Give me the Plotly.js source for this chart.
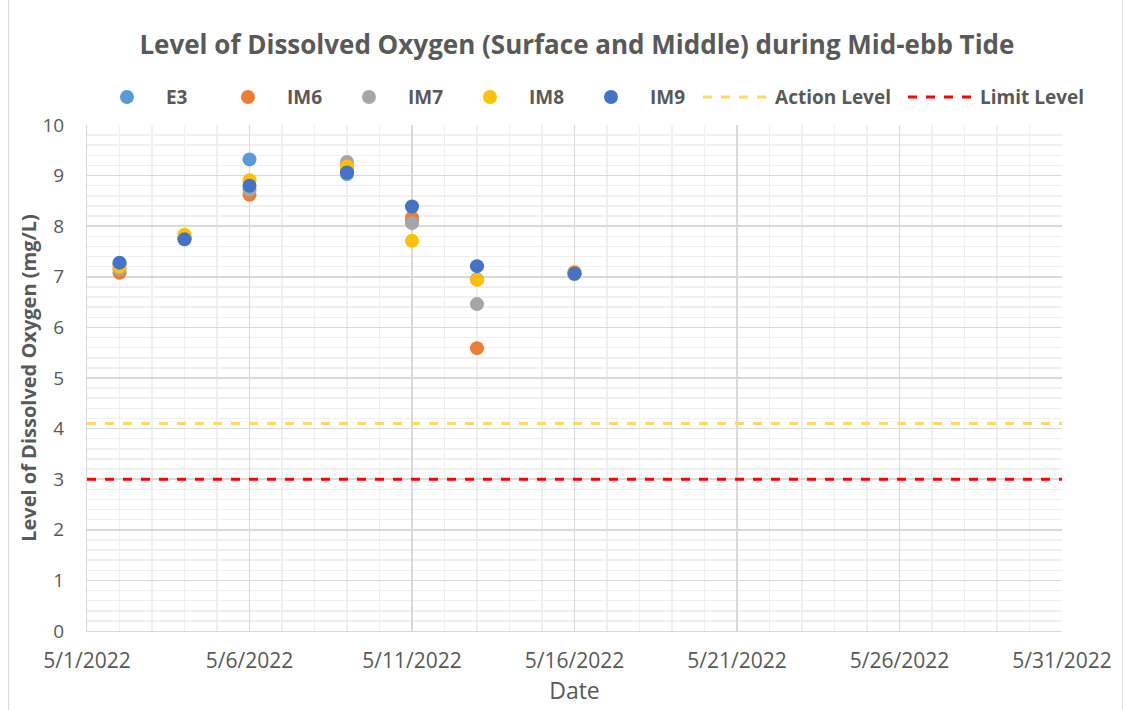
<!DOCTYPE html>
<html>
<head>
<meta charset="utf-8">
<script src="https://cdn.plot.ly/plotly-3.0.1.min.js"></script>
<style>
html,body{margin:0;padding:0;background:#fff;}
#frame{position:absolute;left:8px;top:-2px;width:1115px;height:730px;border:1px solid #d9d9d9;box-sizing:border-box;}
#chart{position:absolute;left:0;top:0;width:1129px;height:710px;}
</style>
</head>
<body>
<div id="frame"></div>
<div id="chart"></div>
<script>
const dates = ["2022-05-02","2022-05-04","2022-05-06","2022-05-09","2022-05-11","2022-05-13","2022-05-16"];
const E3  = [7.25, 7.75, 9.32, 9.03, 8.10, 6.95, 7.06];
const IM6 = [7.08, 7.75, 8.62, 9.10, 8.17, 5.59, 7.09];
const IM7 = [7.15, 7.78, 8.72, 9.27, 8.06, 6.46, 7.06];
const IM8 = [7.20, 7.83, 8.91, 9.18, 7.71, 6.94, 7.06];
const IM9 = [7.28, 7.74, 8.80, 9.06, 8.39, 7.21, 7.06];
const levelDates = ["2022-05-01","2022-05-31"];
const actionLevel = [4.1, 4.1];
const limitLevel = [3.0, 3.0];
const xTicks = ["2022-05-01","2022-05-06","2022-05-11","2022-05-16","2022-05-21","2022-05-26","2022-05-31"];
const xTickText = ["5/1/2022","5/6/2022","5/11/2022","5/16/2022","5/21/2022","5/26/2022","5/31/2022"];

const font = "Open Sans, sans-serif";
const grey = "#595959";
function pts(name, y, color){
  return {type:"scatter", mode:"markers", name:name, x:dates, y:y, legend:"legend",
    marker:{color:color, size:14}, cliponaxis:false};
}
const traces = [
  pts("E3", E3, "#5B9BD5"),
  pts("IM6", IM6, "#ED7D31"),
  pts("IM7", IM7, "#A5A5A5"),
  pts("IM8", IM8, "#FFC000"),
  pts("IM9", IM9, "#4472C4"),
  {type:"scatter", mode:"lines", name:"Action Level", x:levelDates, y:actionLevel, legend:"legend2",
   line:{color:"#FFD966", width:3, dash:"dash"}},
  {type:"scatter", mode:"lines", name:"Limit Level", x:levelDates, y:limitLevel, legend:"legend2",
   line:{color:"#FF0000", width:3, dash:"dash"}}
];
const legFont = {size:19, color:grey, family:font, weight:"bold"};
const layout = {
  width:1129, height:710,
  paper_bgcolor:"rgba(0,0,0,0)", plot_bgcolor:"#fff",
  margin:{l:87, r:67, t:125, b:79, autoexpand:false},
  font:{family:font, color:grey},
  title:{text:"<b>Level of Dissolved Oxygen (Surface and Middle) during Mid-ebb Tide</b>",
    font:{size:26, color:grey, family:font}, x:0.511, xanchor:"center", y:0.937, yanchor:"middle"},
  showlegend:true,
  legend:{orientation:"h", x:0.001, xanchor:"left", y:1.055, yanchor:"middle",
    font:legFont, traceorder:"normal", entrywidth:38, itemwidth:68, itemclick:false},
  legend2:{orientation:"h", x:0.6267, xanchor:"left", y:1.055, yanchor:"middle",
    font:legFont, traceorder:"normal", entrywidth:123, itemwidth:67, itemclick:false},
  xaxis:{type:"date", range:["2022-05-01","2022-05-31"], tickmode:"array",
    tickvals:xTicks, ticktext:xTickText, tickfont:{size:21, color:grey}, ticklabelstandoff:11,
    showgrid:true, gridcolor:"#d9d9d9", gridwidth:1.5,
    minor:{dtick:86400000, showgrid:true, gridcolor:"#efefef", gridwidth:1.5, tick0:"2022-05-01"},
    showline:true, linecolor:"#d9d9d9", linewidth:1, mirror:false, zeroline:false, ticks:"", ticklen:0,
    title:{text:"Date", font:{size:23, color:grey}, standoff:8}},
  yaxis:{range:[0,10], dtick:1, tickfont:{size:19, color:grey}, ticklabelstandoff:18,
    showgrid:true, gridcolor:"#d9d9d9", gridwidth:1.5,
    minor:{dtick:0.2, showgrid:true, gridcolor:"#efefef", gridwidth:1.5},
    showline:true, linecolor:"#d9d9d9", zeroline:false, ticks:"", ticklen:0,
    title:{text:"<b>Level of Dissolved Oxygen (mg/L)</b>", font:{size:20, color:grey}, standoff:0}}
};
Plotly.newPlot("chart", traces, layout, {displayModeBar:false, staticPlot:true});
</script>
</body>
</html>
